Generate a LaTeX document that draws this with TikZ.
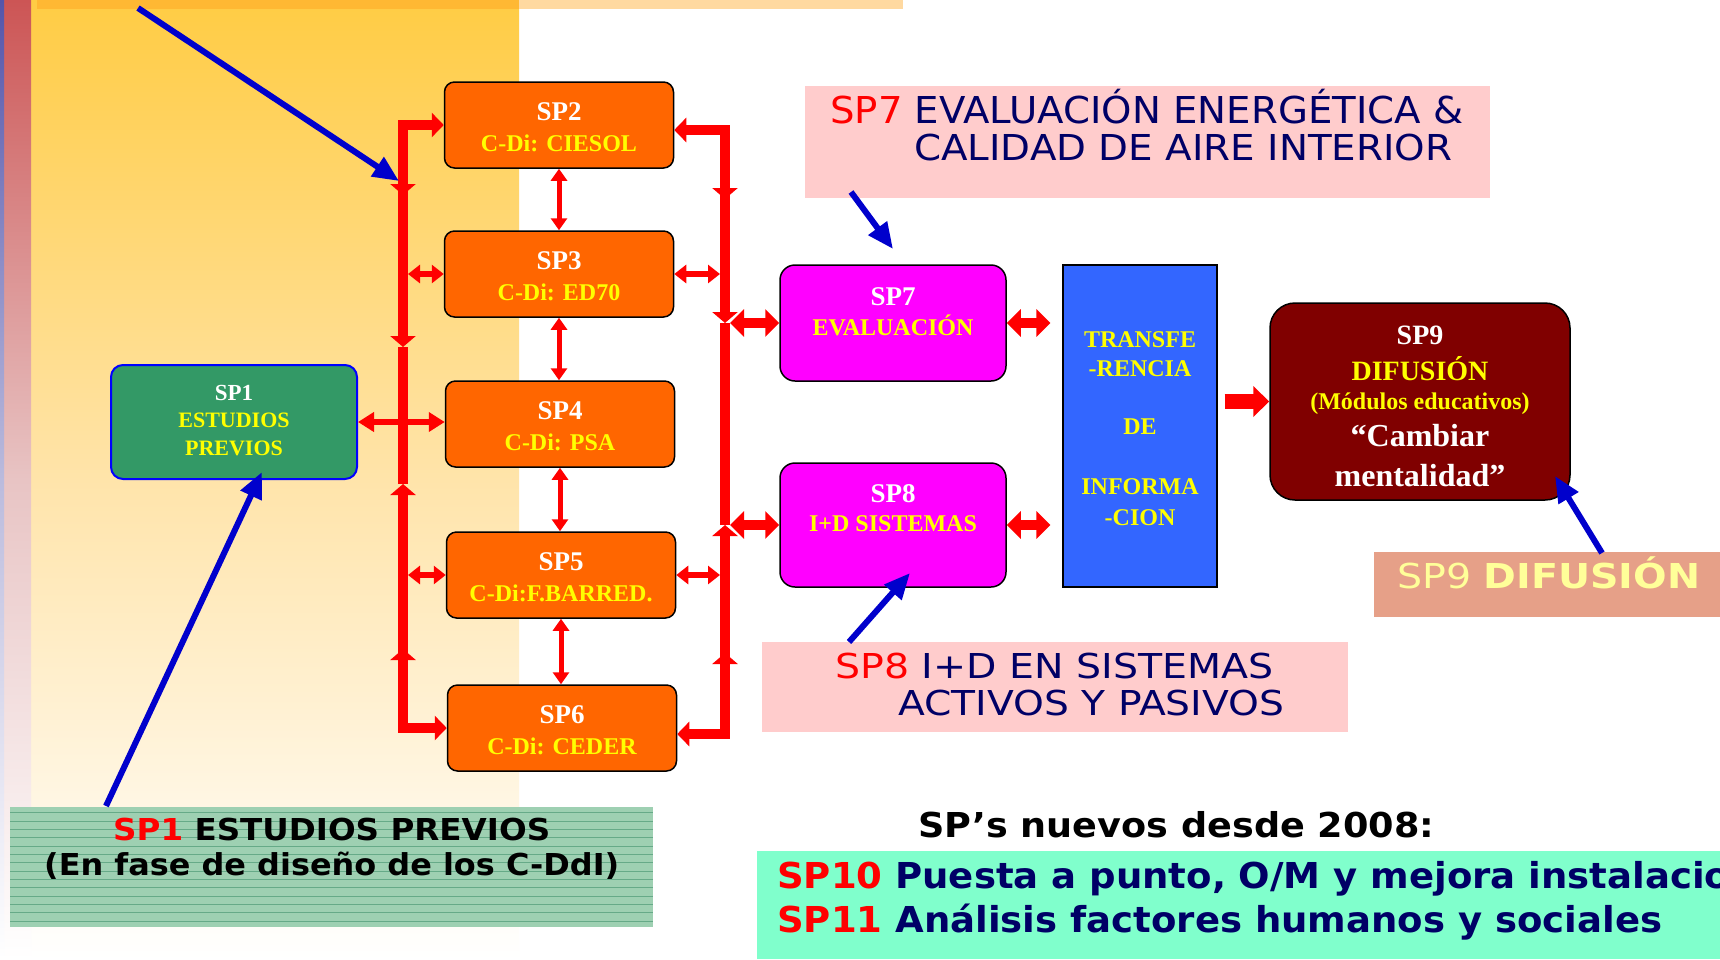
\documentclass[tikz,border=0pt]{standalone}
\usepackage{fontspec}
\usepackage{graphicx}
\setmainfont{Liberation Serif}
\newfontfamily\dvs{DejaVu Sans}
\usetikzlibrary{arrows.meta}
\definecolor{redA}{HTML}{FF0000}
\definecolor{blueA}{HTML}{0000CC}
\definecolor{orangeA}{HTML}{FF6600}
\definecolor{magA}{HTML}{FF00FF}
\definecolor{trA}{HTML}{3366FF}
\definecolor{sp9A}{HTML}{800000}
\definecolor{greenA}{HTML}{339966}
\definecolor{yellowA}{HTML}{FFFF00}
\definecolor{navyA}{HTML}{000066}
\definecolor{pinkA}{HTML}{FFCCCC}
\definecolor{salmonA}{HTML}{E6A088}
\definecolor{lightyA}{HTML}{FFFF99}
\definecolor{annGreen}{HTML}{9ED0B2}
\definecolor{annLine}{HTML}{66AA88}
\definecolor{mintA}{HTML}{80FFCC}
\definecolor{yellowTop}{HTML}{FFCC44}
\definecolor{yellowMid}{HTML}{FFE4AA}
\definecolor{stripRed}{HTML}{CC5555}
\definecolor{stripRedMid}{HTML}{E8C4C4}
\definecolor{stripBlue}{HTML}{5555AA}
\definecolor{stripBlueMid}{HTML}{BBBBDD}
\definecolor{bandA}{HTML}{FFB833}
\definecolor{bandB}{HTML}{FFD9A0}
\newcommand{\fitt}[3]{\resizebox{#1}{#2}{\vrule width 0pt height \fontcharht\font`X depth 0pt\relax\smash{#3}}}
\newsavebox{\measbox}
\begin{document}
\sbox{\measbox}{\dvs\bfseries\fontsize{35.67pt}{40pt}\selectfont SP11 Análisis factores humanos y sociales}%
\pgfmathsetmacro{\sxb}{885/\the\wd\measbox}%
\begin{tikzpicture}[x=1pt,y=-1pt,
  obox/.style={draw=black, line width=1.5pt, fill=orangeA, rounded corners=10pt, minimum width=229pt, minimum height=86pt, inner sep=0pt},
  mbox/.style={draw=black, line width=1.5pt, fill=magA, rounded corners=15pt, minimum width=226pt, inner sep=0pt},
  ttl/.style={anchor=base, inner sep=0pt, text=white, font={\bfseries\fontsize{27pt}{27pt}\selectfont}},
  sub/.style={anchor=base, inner sep=0pt, text=yellowA, font={\bfseries\fontsize{24pt}{24pt}\selectfont}},
  ann/.style={inner sep=0pt, anchor=base west, font=\dvs, text=navyA},
  annb/.style={inner sep=0pt, anchor=base west, font=\dvs\bfseries, text=black},
  bus/.style={draw=redA, line width=10pt},
  bmark/.style={arrows={-Triangle[width=25pt,length=11pt]}},
  corner/.style={line join=miter, arrows={-Triangle[width=24pt,length=12pt]}},
  thintwo/.style={draw=redA, line width=6pt, arrows={Triangle[width=18pt,length=12pt]-Triangle[width=18pt,length=12pt]}},
  vtwo/.style={draw=redA, line width=5pt, arrows={Triangle[width=16pt,length=12pt]-Triangle[width=16pt,length=12pt]}},
  midtwo/.style={draw=redA, line width=6pt, arrows={Triangle[width=19pt,length=16pt]-Triangle[width=19pt,length=16pt]}},
  thicktwo/.style={draw=redA, line width=10pt, arrows={Triangle[width=27pt,length=14pt]-Triangle[width=27pt,length=14pt]}},
  bigarrow/.style={draw=redA, line width=15pt, arrows={-Triangle[width=30pt,length=16pt]}},
  barrow/.style={draw=blueA, line width=6pt, arrows={-Triangle[width=22pt,length=26pt]}}
]
\useasboundingbox (0,0) rectangle (1720,959);
\clip (0,0) rectangle (1720,959);
% background
\fill[white] (0,0) rectangle (1720,959);
\shade[top color=yellowTop, bottom color=white, middle color=yellowMid] (31,0) rectangle (519,959);
\shade[top color=stripRed, bottom color=white, middle color=stripRedMid] (4,0) rectangle (31,959);
\shade[top color=stripBlue, bottom color=white, middle color=stripBlueMid] (0,0) rectangle (4,959);
\fill[bandA] (37,0) rectangle (519,9);
\fill[bandB] (519,0) rectangle (903,9);

% main boxes
\node[obox] (sp2) at (559,125) {};
\node[obox] (sp3) at (559,274) {};
\node[obox] (sp4) at (560,424) {};
\node[obox] (sp5) at (561,575) {};
\node[obox] (sp6) at (562,728) {};
\node[draw=blue, line width=2pt, fill=greenA, rounded corners=12pt, minimum width=246pt, minimum height=114pt, inner sep=0pt] (sp1) at (234,422) {};
\node[mbox, minimum height=116pt] (sp7) at (893,323) {};
\node[mbox, minimum height=124pt] (sp8) at (893,525) {};
\node[draw=black, line width=1.2pt, fill=trA, minimum width=154pt, minimum height=322pt, inner sep=0pt] (tr) at (1140,426) {};
\node[draw=black, line width=1.5pt, fill=sp9A, rounded corners=25pt, minimum width=300pt, minimum height=197pt, inner sep=0pt] (sp9) at (1420,401.5) {};

% box texts
\node[ttl] (sp2a) at ([yshift=-39pt]sp2.north) {SP2};
\node[sub] (sp2b) at ([yshift=-70pt]sp2.north) {C-Di: CIESOL};
\node[ttl] (sp3a) at ([yshift=-39pt]sp3.north) {SP3};
\node[sub] (sp3b) at ([yshift=-70pt]sp3.north) {C-Di: ED70};
\node[ttl] (sp4a) at ([yshift=-39pt]sp4.north) {SP4};
\node[sub] (sp4b) at ([yshift=-70pt]sp4.north) {C-Di: PSA};
\node[ttl] (sp5a) at ([yshift=-39pt]sp5.north) {SP5};
\node[sub] (sp5b) at ([yshift=-70pt]sp5.north) {C-Di:F.BARRED.};
\node[ttl] (sp6a) at ([yshift=-39pt]sp6.north) {SP6};
\node[sub] (sp6b) at ([yshift=-70pt]sp6.north) {C-Di: CEDER};
\node[ttl, font={\bfseries\fontsize{23pt}{23pt}\selectfont}] (sp1a) at ([yshift=-36pt]sp1.north) {SP1};
\node[sub, font={\bfseries\fontsize{22pt}{22pt}\selectfont}] (sp1b) at ([yshift=-63pt]sp1.north) {ESTUDIOS};
\node[sub, font={\bfseries\fontsize{22pt}{22pt}\selectfont}] (sp1c) at ([yshift=-91pt]sp1.north) {PREVIOS};
\node[ttl] (sp7a) at ([yshift=-41pt]sp7.north) {SP7};
\node[sub] (sp7b) at ([yshift=-71pt]sp7.north) {EVALUACIÓN};
\node[ttl] (sp8a) at ([yshift=-40pt]sp8.north) {SP8};
\node[sub] (sp8b) at ([yshift=-69pt]sp8.north) {I+D SISTEMAS};
\node[sub] (tra) at ([yshift=-83pt]tr.north) {TRANSFE};
\node[sub] (trb) at ([yshift=-112pt]tr.north) {-RENCIA};
\node[sub] (trc) at ([yshift=-170pt]tr.north) {DE};
\node[sub] (trd) at ([yshift=-230pt]tr.north) {INFORMA};
\node[sub] (tre) at ([yshift=-261pt]tr.north) {-CION};
\node[ttl, font={\bfseries\fontsize{28pt}{28pt}\selectfont}] (sp9a) at ([yshift=-42pt]sp9.north) {SP9};
\node[sub, font={\bfseries\fontsize{28pt}{28pt}\selectfont}] (sp9b) at ([yshift=-78pt]sp9.north) {DIFUSIÓN};
\node[sub, font={\bfseries\fontsize{24pt}{24pt}\selectfont}] (sp9c) at ([yshift=-107pt]sp9.north) {(Módulos educativos)};
\node[ttl, font={\bfseries\fontsize{32pt}{32pt}\selectfont}] (sp9d) at ([yshift=-144pt]sp9.north) {“Cambiar};
\node[ttl, font={\bfseries\fontsize{32pt}{32pt}\selectfont}] (sp9e) at ([yshift=-184pt]sp9.north) {mentalidad”};

% bus coordinates
\coordinate (LB) at (403,0);
\coordinate (LBr) at (408,0);
\coordinate (RB) at (725,0);
\coordinate (RBl) at (720,0);
\coordinate (RBr) at (730,0);
\coordinate (lm1) at (403,195);
\coordinate (lm2) at (403,347);
\coordinate (lm3) at (403,484);
\coordinate (lm4) at (403,649);
\coordinate (rm1) at (725,199);
\coordinate (rm2) at (725,323);
\coordinate (rm3) at (725,525);
\coordinate (rm4) at (725,653);
\coordinate (sp2r) at ([yshift=-5pt]sp2.east);
\coordinate (sp6r) at ([yshift=-6pt]sp6.east);

% left bus
\draw[bus, corner] (lm1) -- (sp2.west -| LB) -- (sp2.west);
\draw[bus, corner] (lm4) -- (sp6.west -| LB) -- (sp6.west);
\draw[bus, bmark] (sp2.west -| LB) -- (lm1);
\draw[bus, bmark] (lm1) -- (lm2);
\draw[bus] (lm2) -- (lm3);
\draw[bus, bmark] (sp6.west -| LB) -- (lm4);
\draw[bus, bmark] (lm4) -- (lm3);
% right bus
\draw[bus, corner] (rm1) -- (sp2r -| RB) -- (sp2r);
\draw[bus, corner] (rm4) -- (sp6r -| RB) -- (sp6r);
\draw[bus, bmark] (sp2r -| RB) -- (rm1);
\draw[bus, bmark] (rm1) -- (rm2);
\draw[bus] (rm2) -- (rm3);
\draw[bus, bmark] (sp6r -| RB) -- (rm4);
\draw[bus, bmark] (rm4) -- (rm3);

% double arrows
\draw[thintwo] (sp3.west -| LBr) -- (sp3.west);
\draw[thintwo] (sp5.west -| LBr) -- (sp5.west);
\draw[midtwo] (sp1.east) -- (sp1.east -| sp4.west);
\draw[thintwo] (sp3.east) -- (sp3.east -| RBl);
\draw[thintwo] (sp5.east) -- (sp5.east -| RBl);
\draw[thicktwo] (sp7.west -| RBr) -- (sp7.west);
\draw[thicktwo] (sp8.west -| RBr) -- (sp8.west);
\draw[thicktwo, shorten >=12pt] (sp7.east) -- (sp7.east -| tr.west);
\draw[thicktwo, shorten >=12pt] (sp8.east) -- (sp8.east -| tr.west);
\draw[bigarrow, shorten <=7pt] (sp9.west -| tr.east) -- (sp9.west);
\draw[vtwo] (sp2.south) -- (sp2.south |- sp3.north);
\draw[vtwo] (sp3.south) -- (sp3.south |- sp4.north);
\draw[vtwo] (sp4.south) -- (sp4.south |- sp5.north);
\draw[vtwo] (sp5.south) -- (sp5.south |- sp6.north);

% annotation boxes
\node[fill=pinkA, minimum width=685pt, minimum height=112pt, inner sep=0pt] (ann7) at (1147.5,142) {};
\node[fill=pinkA, minimum width=586pt, minimum height=90pt, inner sep=0pt] (ann8) at (1055,687) {};
\node[fill=salmonA, minimum width=346pt, minimum height=65pt, inner sep=0pt] (ann9) at (1547,584.5) {};
\node[fill=annGreen, minimum width=643pt, minimum height=120pt, inner sep=0pt] (ann1) at (331.5,867) {};
\begin{scope}
\clip (ann1.north west) rectangle (ann1.south east);
\foreach \i in {0,...,13} \draw[annLine, line width=1pt] (10,{812.7+8.33*\i}) -- (653,{812.7+8.33*\i});
\end{scope}
\node[fill=mintA, minimum width=963pt, minimum height=108pt, inner sep=0pt] (annb) at (1238.5,905) {};

% annotation texts
\node[ann] (t7a) at (830,123) {\fitt{633pt}{27pt}{\textcolor{redA}{SP7} EVALUACIÓN ENERGÉTICA \&}};
\node[ann] (t7b) at (914,160) {\fitt{538pt}{26pt}{CALIDAD DE AIRE INTERIOR}};
\node[ann] (t8a) at (835,678) {\fitt{438pt}{25pt}{\textcolor{redA}{SP8} I+D EN SISTEMAS}};
\node[ann] (t8b) at (898,715) {\fitt{386pt}{25pt}{ACTIVOS Y PASIVOS}};
\node[ann, text=lightyA] (t9) at (1397,588) {\fitt{303pt}{25pt}{SP9 \textbf{DIFUSIÓN}}};
\node[annb] (t1a) at (113,840) {\fitt{437pt}{22pt}{\textcolor{redA}{SP1} ESTUDIOS PREVIOS}};
\node[annb] (t1b) at (44,875) {\fitt{575pt}{22pt}{(En fase de diseño de los C-DdI)}};
\node[annb] (tnew) at (918,837) {\fitt{516pt}{25pt}{SP’s nuevos desde 2008:}};
\node[annb, text=navyA, font={\dvs\bfseries\fontsize{35.67pt}{40pt}\selectfont}] (t10) at (777,888) {\scalebox{\sxb}[1]{\textcolor{redA}{SP10} Puesta a punto, O/M y mejora instalaciones}};
\node[annb, text=navyA, font={\dvs\bfseries\fontsize{35.67pt}{40pt}\selectfont}] (t11) at (777,932) {\scalebox{\sxb}[1]{\textcolor{redA}{SP11} Análisis factores humanos y sociales}};

% blue arrows
\coordinate (b1s) at (138,8);
\coordinate (b1t) at (399,181);
\coordinate (b7s) at (851,192);
\coordinate (b7t) at (893,249);
\coordinate (b8s) at (849,642);
\coordinate (b8t) at (910,573);
\coordinate (b9s) at (1602,553);
\coordinate (b9t) at (1555,476);
\coordinate (bas) at (106,806);
\coordinate (bat) at (262,472);
\draw[barrow] (b1s) -- (b1t);
\draw[barrow] (b7s) -- (b7t);
\draw[barrow] (b8s) -- (b8t);
\draw[barrow] (b9s) -- (b9t);
\draw[barrow] (bas) -- (bat);
\end{tikzpicture}
\end{document}
